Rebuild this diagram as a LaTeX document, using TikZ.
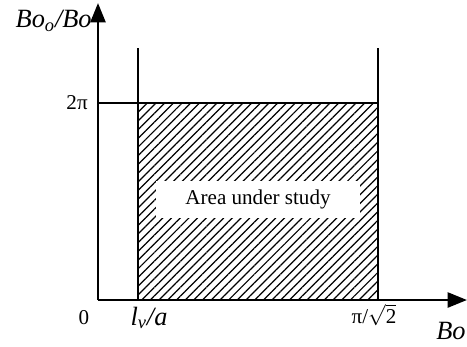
\documentclass[tikz,border=0pt]{standalone}
\usepackage{fontspec}
\setmainfont{Liberation Serif}
\usetikzlibrary{arrows.meta,patterns.meta}

\begin{document}
\begin{tikzpicture}[
    x=0.02cm, y=-0.02cm,
    axis/.style={line width=1.5pt, -{Triangle[length=11pt,width=8.5pt]}},
    bound/.style={line width=1pt},
    hatch/.style={pattern={Lines[angle=45,distance=3.5pt,line width=0.7pt]}},
    lbl/.style={font=\fontsize{12}{14}\selectfont, inner sep=0pt},
    axlbl/.style={font=\fontsize{15}{17}\selectfont\itshape, inner sep=0pt}
]
\useasboundingbox (0,0) rectangle (467,346);

% corners of the region
\coordinate (O) at (98,300);
\coordinate (ytip) at (98,3);
\coordinate (xtip) at (467,300);
\coordinate (lb) at (138,300);
\coordinate (rb) at (378,300);
\coordinate (lt) at (138,48);
\coordinate (rt) at (378,48);
\coordinate (ya) at (98,103);
\coordinate (la) at (138,103);
\coordinate (ra) at (378,103);

% hatched area
\fill[hatch] (la) rectangle (rb);

% bounds
\draw[bound] (lb) -- (lt);
\draw[bound] (rb) -- (rt);
\draw[bound] (ya) -- (ra);

% axes
\draw[axis] (O) -- (ytip);
\draw[axis] (O) -- (xtip);

\node[lbl, fill=white, minimum width=4.1cm, minimum height=0.74cm] (area) at (258,199) {Area under study};

\node[axlbl, anchor=east] (ylab) at (92,21) {Bo\textsubscript{o}/Bo};
\node[lbl, anchor=east] (twopi) at (88,103) {2π};
\node[lbl] (zero) at (84,318) {0};
\node[axlbl] (lv) at (149,318) {l\textsubscript{ν}/a};
\node[lbl] (pis) at (374,315) {π/$\sqrt{\mbox{2}}$};
\node[axlbl, anchor=east] (xlab) at (466,331) {Bo};
\end{tikzpicture}
\end{document}
